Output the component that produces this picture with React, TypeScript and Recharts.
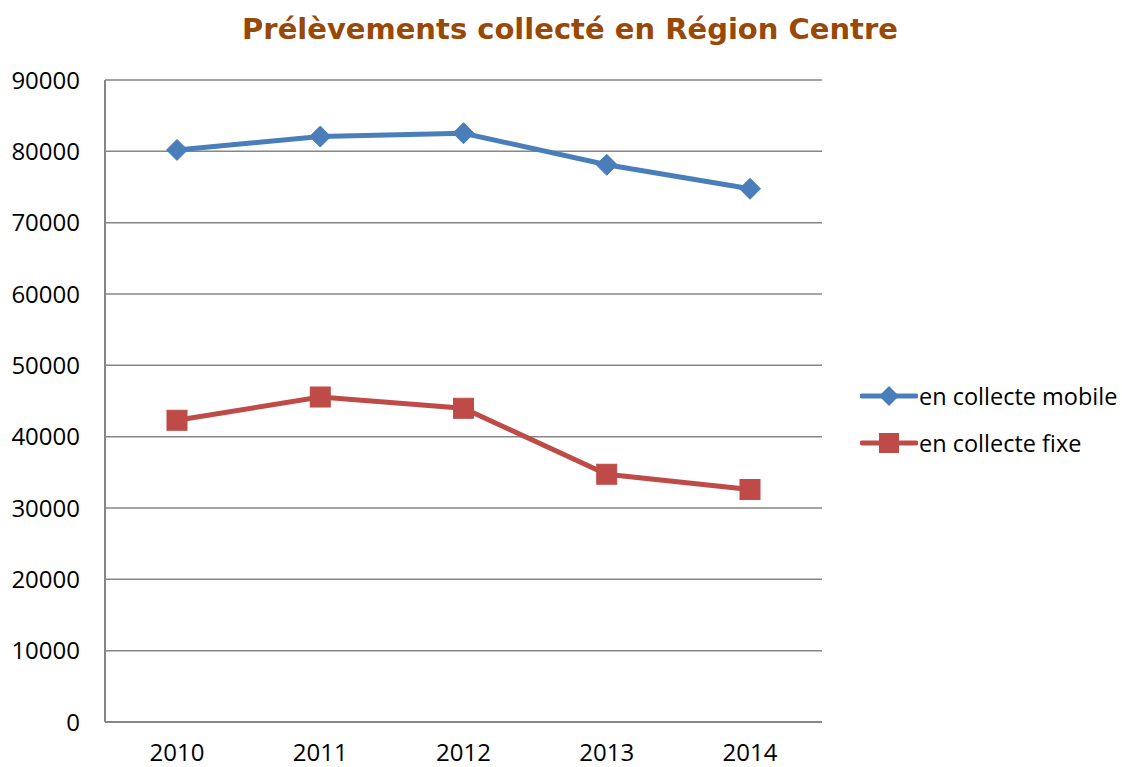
import React from "react";
import { LineChart, Line, XAxis, YAxis, CartesianGrid } from "recharts";

const categories = ["2010", "2011", "2012", "2013", "2014"];
const mobileValues = [80200, 82070, 82540, 78110, 74750];
const fixeValues = [42300, 45560, 43980, 34730, 32590];
const yTicks = [0, 10000, 20000, 30000, 40000, 50000, 60000, 70000, 80000, 90000];
const seriesNames = ["en collecte mobile", "en collecte fixe"];
const titleText = "Prélèvements collecté en Région Centre";

const BLUE = "#4A7EBB";
const RED = "#BE4B48";
const GRID = "#868686";
const FONT = "'Open Sans', sans-serif";

const data = categories.map((c, i) => ({
  year: c,
  mobile: mobileValues[i],
  fixe: fixeValues[i],
}));

const Diamond = (props: any) => {
  const { cx, cy, index } = props;
  if (cx == null || cy == null) return <g key={`d-${index}`} />;
  const r = 10.5;
  return (
    <path
      key={`d-${index}`}
      d={`M${cx},${cy - r}L${cx + r},${cy}L${cx},${cy + r}L${cx - r},${cy}Z`}
      fill={BLUE}
      stroke={BLUE}
      strokeWidth={1}
    />
  );
};

const Square = (props: any) => {
  const { cx, cy, index } = props;
  if (cx == null || cy == null) return <g key={`s-${index}`} />;
  const h = 10;
  return (
    <rect
      key={`s-${index}`}
      x={cx - h}
      y={cy - h}
      width={2 * h}
      height={2 * h}
      fill={RED}
      stroke={RED}
      strokeWidth={1}
    />
  );
};

const LegendBox = () => {
  const items = [
    { name: seriesNames[0], color: BLUE, shape: "diamond" },
    { name: seriesNames[1], color: RED, shape: "square" },
  ];
  return (
    <div style={{ position: "absolute", left: 860, top: 372, width: 262, fontFamily: FONT }}>
      {items.map((it) => (
        <div
          key={it.name}
          style={{ display: "flex", alignItems: "center", height: 47, whiteSpace: "nowrap" }}
        >
          <svg width={58} height={24} style={{ display: "block" }}>
            <line x1={2} y1={12} x2={56} y2={12} stroke={it.color} strokeWidth={5} strokeLinecap="round" />
            {it.shape === "diamond" ? (
              <path d="M29,2L39,12L29,22L19,12Z" fill={it.color} />
            ) : (
              <rect x={19} y={2} width={20} height={20} fill={it.color} />
            )}
          </svg>
          <span style={{ fontSize: 23.5, color: "#000", marginLeft: 1 }}>{it.name}</span>
        </div>
      ))}
    </div>
  );
};

export default function App() {
  return (
    <div style={{ position: "absolute", left: 0, top: 0, width: 1122, height: 767, background: "#fff" }}>
      <LineChart
        width={1122}
        height={767}
        data={data}
        margin={{ top: 80, right: 300, left: 0, bottom: 0 }}
      >
        <CartesianGrid vertical={false} stroke={GRID} strokeWidth={1.5} />
        <XAxis
          dataKey="year"
          padding={{ left: 72, right: 72 }}
          height={45}
          tickLine={false}
          tickSize={0}
          tickMargin={22}
          axisLine={{ stroke: GRID, strokeWidth: 2 }}
          tick={{ fill: "#000", fontSize: 24, fontFamily: FONT }}
        />
        <YAxis
          width={105}
          domain={[0, 90000]}
          ticks={yTicks}
          interval={0}
          tickLine={false}
          tickSize={0}
          tickMargin={25}
          axisLine={{ stroke: GRID, strokeWidth: 2 }}
          tick={{ fill: "#000", fontSize: 24, fontFamily: FONT }}
        />
        <Line
          name={seriesNames[0]}
          dataKey="mobile"
          stroke={BLUE}
          strokeWidth={5}
          dot={Diamond}
          activeDot={false}
          isAnimationActive={false}
        />
        <Line
          name={seriesNames[1]}
          dataKey="fixe"
          stroke={RED}
          strokeWidth={5}
          dot={Square}
          activeDot={false}
          isAnimationActive={false}
        />
      </LineChart>
      <div
        style={{
          position: "absolute",
          left: 0,
          width: 1140,
          top: 8,
          textAlign: "center",
          fontFamily: "'DejaVu Sans', sans-serif",
          fontWeight: "bold",
          fontSize: 29,
          color: "#984807",
          lineHeight: "42px",
        }}
      >
        {titleText}
      </div>
      <LegendBox />
    </div>
  );
}
